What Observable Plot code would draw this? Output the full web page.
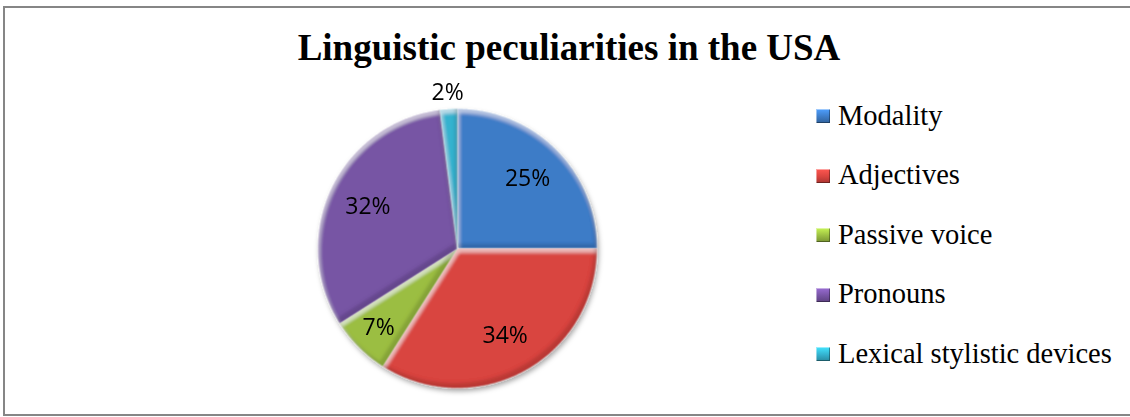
<!DOCTYPE html>
<html>
<head>
<meta charset="utf-8">
<script src="https://cdn.jsdelivr.net/npm/d3@7"></script>
<script src="https://cdn.jsdelivr.net/npm/@observablehq/plot@0.6"></script>
<style>
  html, body { margin: 0; padding: 0; background: #fff; width: 1130px; height: 417px; overflow: hidden; }
  #frame { position: absolute; left: 3px; top: 6px; width: 1140px; height: 410px; border: 2px solid #868686; box-sizing: border-box; }
  #title { position: absolute; left: 0; top: 29px; width: 1138px; text-align: center; font-family: "Liberation Serif", "Times New Roman", serif; font-weight: bold; font-size: 37px; line-height: 37px; color: #000; white-space: nowrap; }
  #chart { position: absolute; left: 297px; top: 78px; }
  #legend { position: absolute; left: 0; top: 0; }
  .lg-item { position: absolute; left: 816px; height: 28px; }
  .lg-sw { position: absolute; left: 0; width: 14px; height: 14px; box-sizing: border-box; }
  .lg-tx { position: absolute; left: 22px; top: 0; font-family: "Liberation Serif", "Times New Roman", serif; font-size: 28.5px; line-height: 28px; color: #000; white-space: nowrap; }
</style>
</head>
<body>
<div id="frame"></div>
<div id="title">Linguistic peculiarities in the USA</div>
<div id="chart"></div>
<div id="legend"></div>
<script>
// ---- data ----
const categories = ["Modality", "Adjectives", "Passive voice", "Pronouns", "Lexical stylistic devices"];
const shares = [25, 34, 7, 32, 2];
const labels = ["25%", "34%", "7%", "32%", "2%"];
const colors = ["#3D7CC7", "#D9443F", "#9BBE42", "#7754A4", "#34B2CF"];

// ---- geometry derived from data ----
const R = 139.5;
const rows = categories.map((name, i) => ({name, share: shares[i], label: labels[i]}));
const arcs = d3.pie().sort(null).value(d => d.share)(rows);

const slicePts = [];
for (const a of arcs) {
  slicePts.push({name: a.data.name, x: 0, y: 0});
  const n = Math.max(2, Math.ceil((a.endAngle - a.startAngle) / (Math.PI / 360)));
  for (let k = 0; k <= n; k++) {
    const t = a.startAngle + (a.endAngle - a.startAngle) * k / n;
    slicePts.push({name: a.data.name, x: R * Math.sin(t), y: R * Math.cos(t)});
  }
  slicePts.push({name: a.data.name, x: 0, y: 0});
}

const labelData = arcs.map(a => {
  const mid = (a.startAngle + a.endAngle) / 2;
  const f = a.data.share / 100;
  const r = f < 0.05 ? 1.12 * R : f < 0.1 ? 0.8 * R : 0.71 * R;
  return {label: a.data.label, x: r * Math.sin(mid), y: r * Math.cos(mid)};
});

const chart = Plot.plot({
  width: 320,
  height: 340,
  margin: 0,
  x: {domain: [-160, 160], axis: null},
  y: {domain: [-170, 170], axis: null},
  color: {domain: categories, range: colors},
  style: {background: "transparent", overflow: "visible"},
  marks: [
    Plot.line(slicePts, {x: "x", y: "y", z: "name", fill: "name", stroke: "white", strokeWidth: 0.8, strokeOpacity: 0.4, curve: "linear"}),
    Plot.text(labelData, {x: "x", y: "y", text: "label", fontSize: 23, fontFamily: "Open Sans", fill: "#000"})
  ]
});

// bevel + shadow filters
const defs = document.createElementNS("http://www.w3.org/2000/svg", "defs");
defs.innerHTML = `
<filter id="bevel" x="-10%" y="-10%" width="120%" height="120%">
  <feGaussianBlur in="SourceAlpha" stdDeviation="1.6" result="b"/>
  <feOffset in="b" dx="0" dy="5" result="bh"/>
  <feComposite in="SourceAlpha" in2="bh" operator="out" result="hm"/>
  <feFlood flood-color="#ffffff" flood-opacity="0.28" result="w"/>
  <feComposite in="w" in2="hm" operator="in" result="hl"/>
  <feOffset in="b" dx="3" dy="3" result="bh2"/>
  <feComposite in="SourceAlpha" in2="bh2" operator="out" result="hm2"/>
  <feComposite in="w" in2="hm2" operator="in" result="hl2"/>
  <feOffset in="b" dx="-3" dy="-5" result="bs"/>
  <feComposite in="SourceAlpha" in2="bs" operator="out" result="sm"/>
  <feFlood flood-color="#000000" flood-opacity="0.28" result="k"/>
  <feComposite in="k" in2="sm" operator="in" result="sh"/>
  <feMerge><feMergeNode in="SourceGraphic"/><feMergeNode in="hl"/><feMergeNode in="hl2"/><feMergeNode in="sh"/></feMerge>
</filter>
<filter id="shadow" x="-10%" y="-10%" width="125%" height="125%">
  <feDropShadow dx="1.5" dy="3" stdDeviation="2.5" flood-color="#000" flood-opacity="0.35"/>
</filter>`;
chart.insertBefore(defs, chart.firstChild);
const lineG = chart.querySelector('g[aria-label="line"]');
if (lineG) {
  lineG.setAttribute("filter", "url(#shadow)");
  lineG.querySelectorAll("path").forEach(p => p.setAttribute("filter", "url(#bevel)"));
}
document.getElementById("chart").appendChild(chart);

// legend built from the same arrays / colour scale
const legend = document.getElementById("legend");
const cScale = chart.scale("color");
categories.forEach((name, i) => {
  const item = document.createElement("div");
  item.className = "lg-item";
  item.style.top = (101.6 + i * 59.5) + "px";
  const c = cScale.range[i];
  const light = d3.color(c).brighter(0.7).formatHex();
  const dark = d3.color(c).darker(0.7).formatHex();
  const sw = document.createElement("div");
  sw.className = "lg-sw";
  sw.style.top = "7.5px";
  sw.style.background = `linear-gradient(to bottom, ${light}, ${c} 55%, ${dark})`;
  sw.style.boxShadow = `inset 1px 1px 0 rgba(255,255,255,0.45), inset -1px -1px 0 rgba(0,0,0,0.35)`;
  const tx = document.createElement("div");
  tx.className = "lg-tx";
  tx.textContent = name;
  item.appendChild(sw);
  item.appendChild(tx);
  legend.appendChild(item);
});
</script>
</body>
</html>
